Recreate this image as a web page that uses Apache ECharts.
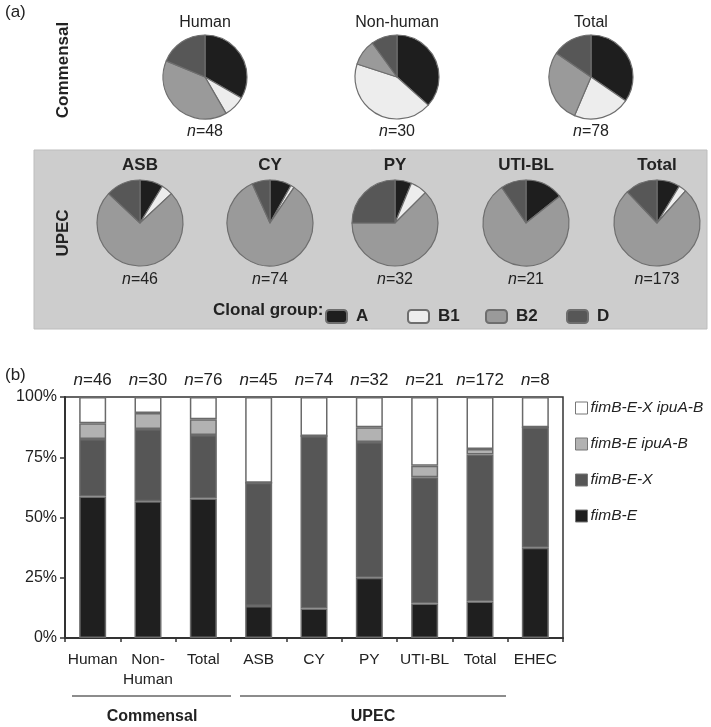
<!DOCTYPE html>
<html><head><meta charset="utf-8">
<script src="https://cdn.jsdelivr.net/npm/echarts@6/dist/echarts.min.js"></script>
<style>html,body{margin:0;padding:0;background:#fff}#c{width:711px;height:727px}</style>
</head><body><div id="c"></div>
<script>
// ---- Panel (a) data: clonal group counts ----
const clonalGroups = ['A', 'B1', 'B2', 'D'];
const commensalNames = ['Human', 'Non-human', 'Total'];
const commensalCounts = [[16, 4, 19, 9], [11, 13, 3, 3], [27, 17, 22, 12]];
const upecNames = ['ASB', 'CY', 'PY', 'UTI-BL', 'Total'];
const upecCounts = [[4, 2, 34, 6], [6, 1, 62, 5], [2, 2, 20, 8], [3, 0, 16, 2], [15, 5, 132, 21]];

// ---- Panel (b) data: percentages ----
const barCategories = ['Human', 'Non-\nHuman', 'Total', 'ASB', 'CY', 'PY', 'UTI-BL', 'Total', 'EHEC'];
const barN = [46, 30, 76, 45, 74, 32, 21, 172, 8];
const fimBE = [58.7, 56.7, 57.9, 13.3, 12.2, 25.0, 14.3, 15.1, 37.5];
const fimBEX = [23.9, 30.0, 26.3, 51.1, 71.6, 56.3, 52.4, 61.0, 50.0];
const fimBEipuAB = [6.5, 6.7, 6.6, 0, 0, 6.2, 4.8, 2.3, 0];
const fimBEXipuAB = [10.9, 6.6, 9.2, 35.6, 16.2, 12.5, 28.5, 21.6, 12.5];
const barSeriesNames = ['fimB-E', 'fimB-E-X', 'fimB-E ipuA-B', 'fimB-E-X ipuA-B'];

// ---- styling ----
const FONT = '"Liberation Sans", Arial, Helvetica, sans-serif';
const pieColors = ['#1e1e1e', '#ededed', '#9a9a9a', '#575757'];
const barColors = ['#1f1f1f', '#565656', '#b2b2b2', '#ffffff'];
const commensalX = [205, 397, 591], commensalY = 77, commensalR = 42;
const upecX = [140, 270, 395, 526, 657], upecY = 223, upecR = 43;
const clonalLegendX = [320, 402, 480, 561];

const series = [];
function addPie(name, counts, cx, cy, r) {
  series.push({
    type: 'pie', name: name, center: [cx, cy], radius: r, startAngle: 90, clockwise: true,
    label: { show: false }, labelLine: { show: false }, silent: true, animation: false,
    itemStyle: { borderColor: '#6e6e6e', borderWidth: 1.2 },
    data: clonalGroups.map((g, i) => ({ name: g, value: counts[i], itemStyle: { color: pieColors[i] } }))
  });
}
commensalNames.forEach((n, i) => addPie('c' + i, commensalCounts[i], commensalX[i], commensalY, commensalR));
upecNames.forEach((n, i) => addPie('u' + i, upecCounts[i], upecX[i], upecY, upecR));

const barData = [fimBE, fimBEX, fimBEipuAB, fimBEXipuAB];
barSeriesNames.forEach((name, i) => {
  series.push({
    type: 'bar', name: name, stack: 'all', barWidth: 27, animation: false,
    xAxisIndex: 0, yAxisIndex: 0,
    itemStyle: { color: barColors[i], borderColor: '#6a6a6a', borderWidth: 1.5 },
    data: barData[i]
  });
});

const sum = a => a.reduce((s, v) => s + v, 0);
const rich = { i: { fontStyle: 'italic', font: 'italic 16px ' + FONT, fill: '#222' } };
const graphics = [];
function txt(x, y, text, font, opts) {
  graphics.push(Object.assign({
    type: 'text', x: x, y: y, silent: true,
    style: Object.assign({ text: text, font: font, fill: '#222', textAlign: 'center', textVerticalAlign: 'middle', rich: rich }, (opts && opts.style) || {})
  }, opts && opts.rotation !== undefined ? { rotation: opts.rotation } : {}));
}
// UPEC gray panel (drawn first)
graphics.unshift({ type: 'rect', z: -10, silent: true, shape: { x: 34, y: 150, width: 673, height: 179 },
  style: { fill: '#cdcdcd', stroke: '#bdbdbd', lineWidth: 1 } });
txt(5, 12, '(a)', '17px ' + FONT, { style: { textAlign: 'left' } });
txt(5, 375, '(b)', '17px ' + FONT, { style: { textAlign: 'left' } });
txt(63, 70, 'Commensal', 'bold 17px ' + FONT, { rotation: Math.PI / 2 });
txt(63, 233, 'UPEC', 'bold 17px ' + FONT, { rotation: Math.PI / 2 });
commensalNames.forEach((n, i) => {
  txt(commensalX[i], 23, n, '16px ' + FONT);
  txt(commensalX[i], 132, '{i|n}=' + sum(commensalCounts[i]), '16px ' + FONT);
});
upecNames.forEach((n, i) => {
  txt(upecX[i], 165, n, 'bold 17px ' + FONT);
  txt(upecX[i], 280, '{i|n}=' + sum(upecCounts[i]), '16px ' + FONT);
});
txt(213, 310, 'Clonal group:', 'bold 17px ' + FONT, { style: { textAlign: 'left' } });
// group brackets under panel (b)
graphics.push({ type: 'line', silent: true, shape: { x1: 72, y1: 696, x2: 231, y2: 696 }, style: { stroke: '#666', lineWidth: 1.5 } });
graphics.push({ type: 'line', silent: true, shape: { x1: 240, y1: 696, x2: 506, y2: 696 }, style: { stroke: '#666', lineWidth: 1.5 } });
txt(152, 717, 'Commensal', 'bold 16px ' + FONT);
txt(373, 717, 'UPEC', 'bold 16px ' + FONT);

const clonalLegends = clonalGroups.map((g, i) => ({
  data: [g], left: clonalLegendX[i], top: 303, orient: 'horizontal', icon: 'roundRect',
  itemWidth: 21, itemHeight: 13, selectedMode: false,
  textStyle: { fontSize: 17, fontWeight: 'bold', color: '#222', fontFamily: FONT, padding: [0, 0, 0, 4] }
}));

const chart = echarts.init(document.getElementById('c'), null, { renderer: 'canvas' });
chart.setOption({
  backgroundColor: '#ffffff',
  animation: false,
  textStyle: { fontFamily: FONT },
  graphic: graphics,
  legend: clonalLegends.concat([
    {
      data: barSeriesNames.slice().reverse(), left: 570, top: 395, orient: 'vertical', icon: 'rect',
      itemWidth: 12, itemHeight: 12, itemGap: 20, selectedMode: false,
      itemStyle: { borderColor: '#777', borderWidth: 1 },
      textStyle: { fontSize: 15.5, fontStyle: 'italic', color: '#222', fontFamily: FONT, padding: [0, 0, 0, -2] }
    }
  ]),
  grid: { left: 65, right: 148, top: 397, bottom: 89, show: true, borderColor: '#333', borderWidth: 1.5, backgroundColor: 'transparent' },
  xAxis: [
    {
      type: 'category', data: barCategories, position: 'bottom',
      axisLine: { lineStyle: { color: '#333', width: 2 } },
      axisTick: { show: true, length: 4, lineStyle: { color: '#333', width: 1.5 } },
      axisLabel: { fontSize: 15.5, color: '#222', margin: 12, lineHeight: 20, interval: 0, fontFamily: FONT }
    },
    {
      type: 'category', data: barN, position: 'top',
      axisLine: { show: false }, axisTick: { show: false },
      axisLabel: {
        interval: 0, margin: 8, fontSize: 17, color: '#222', fontFamily: FONT,
        formatter: v => '{i|n}=' + v,
        rich: { i: { fontStyle: 'italic', fontSize: 17, color: '#222', fontFamily: FONT } }
      }
    }
  ],
  yAxis: {
    type: 'value', min: 0, max: 100, interval: 25,
    axisLine: { show: true, lineStyle: { color: '#333', width: 2 } },
    axisTick: { show: true, length: 5, lineStyle: { color: '#333', width: 1.5 } },
    splitLine: { show: false },
    axisLabel: { formatter: '{value}%', fontSize: 16, color: '#222', margin: 8, fontFamily: FONT }
  },
  series: series
});
</script></body></html>
